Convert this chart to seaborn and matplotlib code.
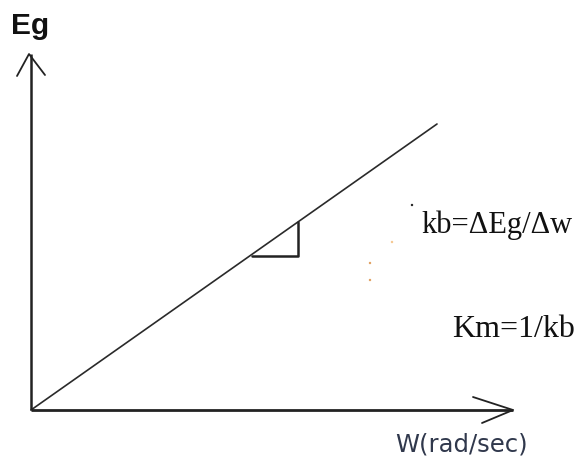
import matplotlib
matplotlib.use("Agg")
import matplotlib.pyplot as plt
import seaborn as sns
import pandas as pd

sns.set_theme(style="white")

# Back-EMF Eg rises linearly with angular speed W (units of the drawing)
speed = [0, 406]
emf = [0, 286]

# axis extents and the slope triangle drawn on the line
x_axis_end = 482
y_axis_end = 356
tri_run = [221, 267]

eg_label = "Eg"
w_label = "W(rad/sec)"
kb_label = "kb=\u0394Eg/\u0394w"
km_label = "Km=1/kb"

fig = plt.figure(figsize=(5.84, 4.60), dpi=100)
ax = fig.add_axes([0, 0, 1, 1])
ax.set_xlim(-31, 553)
ax.set_ylim(-49, 411)
ax.axis("off")

df = pd.DataFrame({"W": speed, "Eg": emf})
sns.lineplot(data=df, x="W", y="Eg", ax=ax, color="#2a2a2a", lw=1.2)

slope = emf[1] / speed[1]

# axes with open arrowheads
ax.plot([0, x_axis_end], [0, 0], color="#222222", lw=2.0, solid_capstyle="butt")
ax.plot([0, 0], [0, y_axis_end], color="#222222", lw=1.8, solid_capstyle="butt")
ax.plot([x_axis_end - 40, x_axis_end, x_axis_end - 31],
        [13, 0, -13], color="#222222", lw=1.3)
ax.plot([-14, -2, 14], [334, 356, 335], color="#222222", lw=1.3)

# slope triangle, its run drawn just under the line
y_leg = slope * tri_run[0] - 2
ax.plot([tri_run[0], tri_run[1], tri_run[1]],
        [y_leg, y_leg, slope * tri_run[1]], color="#222222", lw=1.8)

ax.text(-20, 399, eg_label, fontsize=21.5, fontweight="bold",
        family="Liberation Sans", va="top", ha="left", color="#111111")
ax.text(364, -34, w_label, fontsize=17.5, family="DejaVu Sans",
        va="center", ha="left", color="#30384c")
ax.text(390, 178, kb_label, fontsize=22, family="Liberation Serif",
        va="baseline", ha="left", color="#111111")
ax.text(421, 74, km_label, fontsize=23, family="Liberation Serif",
        va="baseline", ha="left", color="#111111")

# stray specks
ax.scatter([381, 361, 339, 339], [205, 168, 147, 130], s=3,
           color=["#222222", "#f5c890", "#e0a060", "#e0a060"], lw=0)

fig.savefig("out.png", dpi=100)
